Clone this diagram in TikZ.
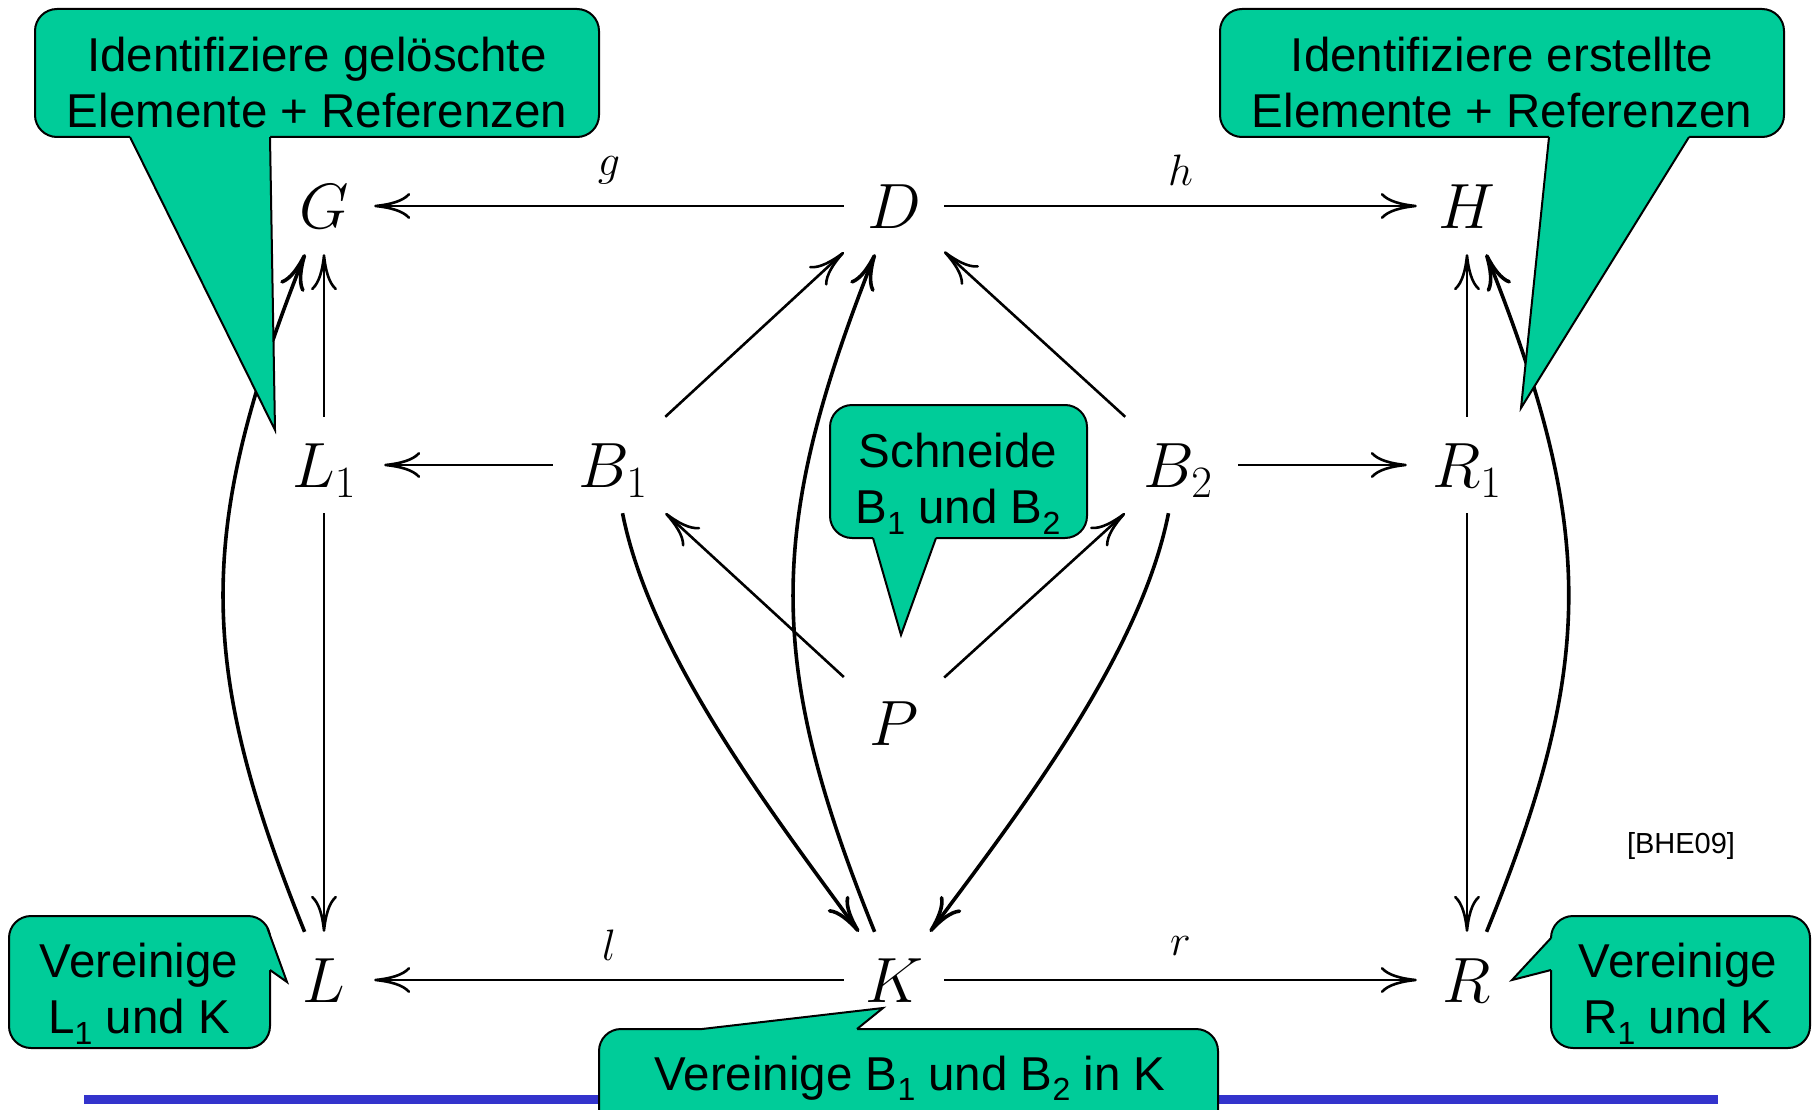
\RequirePackage{fix-cm}
\documentclass[tikz,border=0pt]{standalone}
\usepackage{fontspec}
\newfontfamily\arialf{Liberation Sans}
\usetikzlibrary{arrows.meta}
\definecolor{callgreen}{RGB}{0,204,153}
\definecolor{ruleblue}{RGB}{51,51,204}
\newcommand{\lowsub}[1]{\raisebox{-0.23em}{\fontsize{32}{32}\selectfont #1}}
\begin{document}
\begin{tikzpicture}[x=1pt,y=-1pt,
  obj/.style={inner sep=0pt, minimum width=100pt, minimum height=96pt, text height=45pt, text depth=0pt, font=\fontsize{64}{64}\selectfont},
  objw/.style={obj, minimum width=120pt},
  lab/.style={font=\fontsize{44}{44}\selectfont, inner sep=0pt},
  ar/.style={line width=2.6pt, -{Computer Modern Rightarrow[length=36pt,width=26pt]}},
  arc/.style={ar, line width=3.6pt},
  callbox/.style={fill=callgreen, draw=black, line width=2pt, rounded corners=22pt},
  calledge/.style={draw=black, line width=2pt, line join=miter},
  calltext/.style={font=\arialf\fontsize{47.5}{56}\selectfont, align=center, inner sep=0pt},
  reftext/.style={font=\arialf\fontsize{29}{29}\selectfont, inner sep=0pt},
]
\useasboundingbox (0,0) rectangle (1814,1110);
\clip (0,0) rectangle (1814,1110);
\fill[white] (0,0) rectangle (1814,1110);

% rule line
\coordinate (ruleL) at (84,1099);
\coordinate (ruleR) at (1718,1099);
\draw[ruleblue, line width=9pt] (ruleL) -- (ruleR);

% objects
\node[obj] (G) at (324,206) {$G$};
\node[obj] (D) at (894,206) {$D$};
\node[obj] (H) at (1467,206) {$H$};
\node[objw] (L1) at (324,465) {$L_1$};
\node[objw] (B1) at (613,465) {$B_1$};
\node[objw] (B2) at (1178,465) {$B_2$};
\node[objw] (R1) at (1467,465) {$R_1$};
\node[obj] (P) at (894,723) {$P$};
\node[obj] (L) at (324,980) {$L$};
\node[obj] (K) at (894,980) {$K$};
\node[obj] (R) at (1467,980) {$R$};

% straight arrows
\draw[ar] (D) -- node[lab,midway,yshift=36pt] (lg) {$g$} (G);
\draw[ar] (D) -- node[lab,midway,yshift=36pt] (lh) {$h$} (H);
\draw[ar] (K) -- node[lab,midway,yshift=35pt] (ll) {$l$} (L);
\draw[ar] (K) -- node[lab,midway,yshift=34pt] (lr) {$r$} (R);
\draw[ar] (B1) -- (L1);
\draw[ar] (B2) -- (R1);
\draw[ar] (L1) -- (G);
\draw[ar] (L1) -- (L);
\draw[ar] (R1) -- (H);
\draw[ar] (R1) -- (R);
\draw[ar] (B1) -- (D);
\draw[ar] (B2) -- (D);
\draw[ar] (P) -- (B1);
\draw[ar] (P) -- (B2);

% curved arrows
\draw[arc] (L) .. controls (196,663) and (196,530) .. (G);
\draw[arc] (R) .. controls (1596,663) and (1596,530) .. (H);
\draw[arc] (K) .. controls (766,663) and (766,530) .. (D);
\draw[arc] (B1) .. controls (650,652) and (766,805) .. (K);
\draw[arc] (B2) .. controls (1141,652) and (1025,805) .. (K);

% reference
\node[reftext] (ref) at (1681,846) {[BHE09]};

% callout 1
\path[callbox] (35,9) rectangle (599,137);
\fill[callgreen] (130,137) -- (275,430) -- (270,137) -- (270,131) -- (130,131) -- cycle;
\draw[calledge] (130,137) -- (275,430) -- (270,137);
\node[calltext] (t1) at (317,83) {Identifiziere gelöschte\\Elemente + Referenzen};

% callout 2
\path[callbox] (1220,9) rectangle (1784,137);
\fill[callgreen] (1549,137) -- (1521,408) -- (1689,137) -- (1689,131) -- (1549,131) -- cycle;
\draw[calledge] (1549,137) -- (1521,408) -- (1689,137);
\node[calltext] (t2) at (1502,83) {Identifiziere erstellte\\Elemente + Referenzen};

% callout 3
\path[callbox] (830,405) rectangle (1087,538);
\fill[callgreen] (873,538) -- (901,635) -- (936,538) -- (936,532) -- (873,532) -- cycle;
\draw[calledge] (873,538) -- (901,635) -- (936,538);
\node[calltext] (t3) at (958,484) {Schneide\\B\lowsub{1} und B\lowsub{2}};

% callout 4
\path[callbox] (9,916) rectangle (270,1048);
\fill[callgreen] (267,927) -- (287,982) -- (270,970) -- (262,970) -- (262,927) -- cycle;
\draw[calledge] (267,927) -- (287,982) -- (270,970);
\node[calltext] (t4) at (139,994) {Vereinige\\L\lowsub{1} und K};

% callout 5
\path[callbox] (1551,916) rectangle (1810,1048);
\fill[callgreen] (1551,938) -- (1512,980) -- (1551,970) -- (1557,970) -- (1557,938) -- cycle;
\draw[calledge] (1551,938) -- (1512,980) -- (1551,970);
\node[calltext] (t5) at (1678,994) {Vereinige\\R\lowsub{1} und K};

% callout 6
\path[callbox] (599,1029) rectangle (1218,1140);
\fill[callgreen] (702,1029) -- (883,1008) -- (857,1029) -- (857,1035) -- (702,1035) -- cycle;
\draw[calledge] (702,1029) -- (883,1008) -- (857,1029);
\node[calltext, anchor=base] (t6) at (910,1090) {Vereinige B\lowsub{1} und B\lowsub{2} in K};
\end{tikzpicture}
\end{document}
